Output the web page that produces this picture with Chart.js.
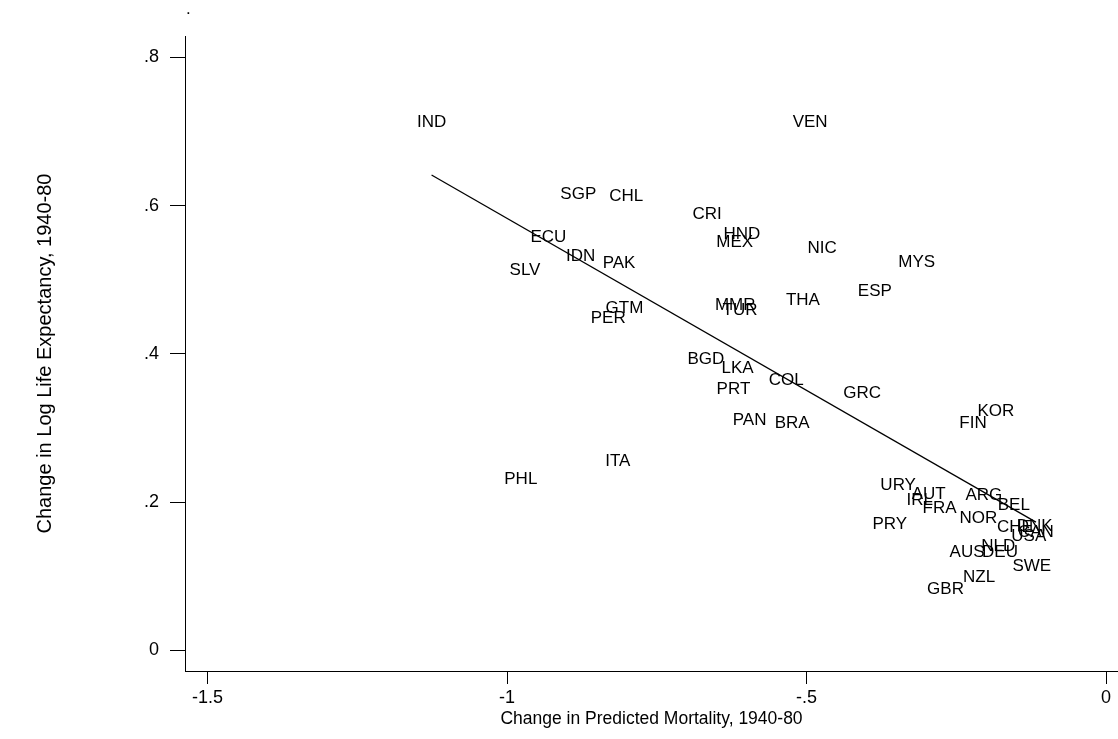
<!DOCTYPE html>
<html>
<head>
<meta charset="utf-8">
<script src="https://cdn.jsdelivr.net/npm/chart.js@4/dist/chart.umd.min.js"></script>
<style>
  html, body { margin: 0; padding: 0; background: #fff; }
  #wrap { width: 1118px; height: 739px; }
</style>
</head>
<body>
<div id="wrap"><canvas id="chart" width="1118" height="739"></canvas></div>
<script>
// Country codes and their changes, 1940-80
const countries = ['IND','VEN','SGP','CHL','CRI','HND','MEX','NIC','ECU','IDN','PAK','SLV','MYS','ESP','THA','MMR','TUR','GTM','PER','BGD','LKA','PRT','COL','GRC','KOR','FIN','PAN','BRA','ITA','PHL','URY','AUT','IRL','FRA','ARG','BEL','NOR','PRY','CHE','DNK','USA','CAN','NLD','DEU','AUS','SWE','NZL','GBR'];
const mortalityChange = [-1.126,-0.494,-0.881,-0.801,-0.666,-0.608,-0.620,-0.474,-0.931,-0.877,-0.813,-0.970,-0.316,-0.386,-0.506,-0.619,-0.611,-0.804,-0.831,-0.668,-0.615,-0.622,-0.534,-0.407,-0.184,-0.222,-0.595,-0.524,-0.815,-0.977,-0.347,-0.296,-0.311,-0.278,-0.204,-0.154,-0.213,-0.361,-0.152,-0.119,-0.129,-0.117,-0.180,-0.177,-0.232,-0.124,-0.212,-0.268];
const lifeExpChange = [0.712,0.712,0.616,0.613,0.589,0.562,0.550,0.542,0.557,0.532,0.523,0.513,0.524,0.485,0.473,0.466,0.459,0.461,0.448,0.393,0.381,0.353,0.364,0.347,0.323,0.306,0.311,0.306,0.255,0.231,0.223,0.211,0.202,0.192,0.210,0.196,0.179,0.170,0.166,0.168,0.154,0.159,0.141,0.132,0.133,0.113,0.099,0.083];

// Fitted line endpoints
const fitX = [-1.126, -0.117];
const fitY = [0.6415, 0.1731];

// Axis ticks
const xTickValues = [-1.5, -1, -0.5, 0];
const xTickLabels = ['-1.5', '-1', '-.5', '0'];
const yTickValues = [0, 0.2, 0.4, 0.6, 0.8];
const yTickLabels = ['0', '.2', '.4', '.6', '.8'];

const FONT = 'Liberation Sans, Arial, Helvetica, sans-serif';

const points = countries.map((c, i) => ({ x: mortalityChange[i], y: lifeExpChange[i] }));
const fitPoints = fitX.map((x, i) => ({ x, y: fitY[i] }));

// Draws each country code centred on its point
const countryLabels = {
  id: 'countryLabels',
  afterDatasetsDraw(chart) {
    const meta = chart.getDatasetMeta(0);
    const ctx = chart.ctx;
    ctx.save();
    ctx.font = '17px ' + FONT;
    ctx.fillStyle = '#000';
    ctx.textAlign = 'center';
    ctx.textBaseline = 'middle';
    meta.data.forEach((el, i) => {
      ctx.fillText(countries[i], el.x, el.y);
    });
    ctx.restore();
  }
};

// Small title mark above the plot region
const cornerTitle = {
  id: 'cornerTitle',
  afterDraw(chart) {
    const ctx = chart.ctx;
    ctx.save();
    ctx.font = '17px ' + FONT;
    ctx.fillStyle = '#000';
    ctx.textAlign = 'left';
    ctx.textBaseline = 'middle';
    ctx.fillText('.', chart.chartArea.left + 1, 9);
    ctx.restore();
  }
};

new Chart(document.getElementById('chart'), {
  type: 'scatter',
  data: {
    datasets: [
      {
        data: points,
        pointRadius: 0,
        pointHoverRadius: 0,
        showLine: false
      },
      {
        type: 'line',
        data: fitPoints,
        borderColor: '#000',
        borderWidth: 1.3,
        pointRadius: 0,
        fill: false,
        tension: 0
      }
    ]
  },
  options: {
    responsive: false,
    animation: false,
    events: [],
    layout: { padding: { top: 36, right: 0, bottom: 0, left: 0 } },
    plugins: {
      legend: { display: false },
      tooltip: { enabled: false },
      title: { display: false }
    },
    scales: {
      x: {
        type: 'linear',
        min: -1.5376,
        max: 0.0200,
        afterBuildTicks(scale) { scale.ticks = xTickValues.map(v => ({ value: v })); },
        afterFit(scale) { scale.height = 68; },
        ticks: {
          autoSkip: false,
          maxRotation: 0,
          padding: 3,
          color: '#000',
          font: { family: FONT, size: 18 },
          callback(value) {
            const i = xTickValues.indexOf(value);
            return i >= 0 ? xTickLabels[i] : '';
          }
        },
        grid: { display: true, drawOnChartArea: false, drawTicks: true, tickLength: 13, color: '#000', lineWidth: 1 },
        border: { display: true, color: '#000', width: 1 },
        title: {
          display: true,
          text: 'Change in Predicted Mortality, 1940-80',
          color: '#000',
          font: { family: FONT, size: 17.5 },
          padding: { top: 0, bottom: 9 }
        }
      },
      y: {
        type: 'linear',
        min: -0.02766,
        max: 0.829,
        afterBuildTicks(scale) { scale.ticks = yTickValues.map(v => ({ value: v })); },
        afterFit(scale) { scale.width = 185; },
        ticks: {
          autoSkip: false,
          padding: 11,
          color: '#000',
          font: { family: FONT, size: 18 },
          callback(value) {
            const i = yTickValues.indexOf(value);
            return i >= 0 ? yTickLabels[i] : '';
          }
        },
        grid: { display: true, drawOnChartArea: false, drawTicks: true, tickLength: 15, color: '#000', lineWidth: 1 },
        border: { display: true, color: '#000', width: 1 },
        title: {
          display: true,
          text: 'Change in Log Life Expectancy, 1940-80',
          color: '#000',
          font: { family: FONT, size: 20 },
          padding: { top: 33, bottom: 0 }
        }
      }
    }
  },
  plugins: [countryLabels, cornerTitle]
});
</script>
</body>
</html>
